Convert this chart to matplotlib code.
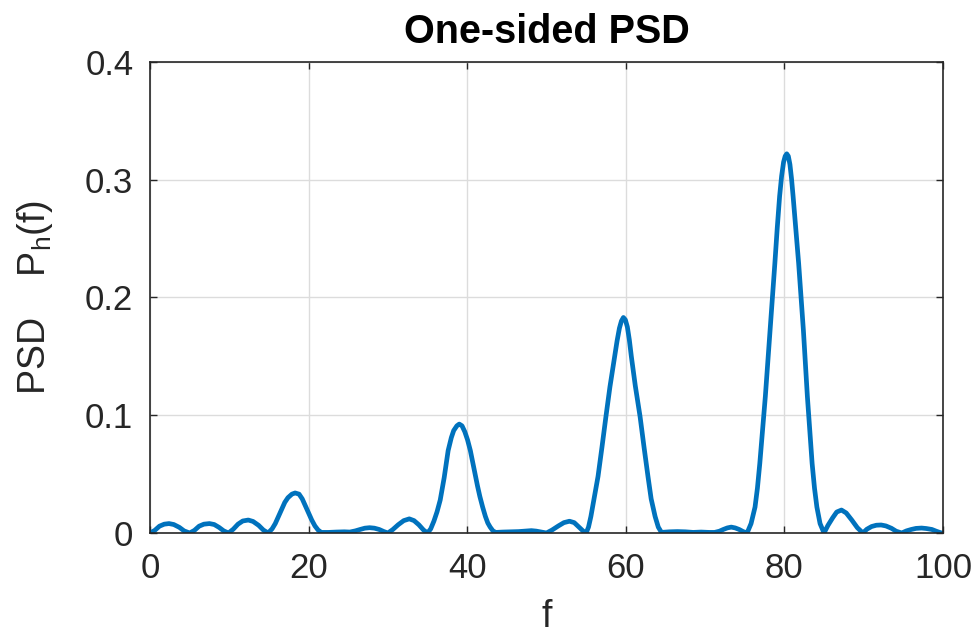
import matplotlib
matplotlib.use("Agg")
from matplotlib import pyplot as plt

plt.rcParams['font.family'] = ['Liberation Sans', 'DejaVu Sans']
plt.rcParams['mathtext.fontset'] = 'custom'
plt.rcParams['mathtext.rm'] = 'Liberation Sans'

# frequency samples and one-sided PSD values
freq = [0.0, 0.6, 1.2, 1.8, 2.4, 3.0, 3.7, 4.3, 5.0,
        5.6, 6.2, 6.8, 7.5, 8.1, 8.7, 9.3, 9.9,
        10.5, 11.1, 11.7, 12.4, 13.0, 13.7, 14.3, 14.9,
        15.4, 15.8, 16.2, 16.6, 17.0, 17.4, 17.9, 18.3, 18.8, 19.2, 19.6, 20.0, 20.4, 20.8, 21.2, 21.6,
        22.5, 23.5, 24.5, 25.2, 25.9, 26.5, 27.1, 27.7, 28.3, 28.9, 29.5, 30.0,
        30.6, 31.3, 32.0, 32.7, 33.3, 33.9, 34.5, 35.0,
        35.4, 35.8, 36.2, 36.6, 37.1, 37.6, 38.0, 38.3, 38.7, 39.0, 39.35, 39.7, 40.05, 40.4,
        40.7, 41.0, 41.3, 41.6, 41.95, 42.3, 42.6, 42.9, 43.25, 43.6,
        44.5, 45.5, 46.5, 47.3, 48.1, 48.7, 49.2, 50.0,
        50.7, 51.5, 52.2, 52.9, 53.5, 54.1, 54.6, 55.0,
        55.3, 55.6, 56.0, 56.5, 57.0, 57.5, 58.0, 58.6, 58.9, 59.2, 59.45, 59.7, 59.95, 60.2, 60.45,
        60.7, 61.2, 61.8, 62.3, 62.8, 63.2, 63.7, 64.1, 64.5,
        65.5, 66.5, 67.5, 68.5, 69.5, 70.5, 71.2, 71.8, 72.3, 72.8, 73.3, 73.8, 74.3, 74.8, 75.3,
        75.8, 76.3, 76.6, 76.9, 77.25, 77.6, 77.9, 78.2, 78.5, 78.8, 79.1, 79.4, 79.65, 79.9,
        80.1, 80.3, 80.5, 80.7, 80.9, 81.1, 81.45, 81.8, 82.1, 82.4, 82.65, 82.9, 83.2, 83.5,
        83.8, 84.1, 84.5, 85.0,
        85.5, 86.1, 86.6, 87.2, 87.8, 88.5, 89.2, 89.9,
        90.4, 91.0, 91.6, 92.2, 92.8, 93.5, 94.1, 94.8,
        95.4, 96.0, 96.6, 97.3, 97.9, 98.6, 99.2, 99.8, 100.0]
psd = [0.0, 0.0022, 0.0058, 0.0075, 0.008, 0.0072, 0.0048, 0.0018, 0.0,
       0.0022, 0.0058, 0.0075, 0.008, 0.0072, 0.0048, 0.0018, 0.0,
       0.0032, 0.0075, 0.0102, 0.011, 0.0098, 0.0065, 0.0025, 0.0,
       0.0035, 0.008, 0.014, 0.020, 0.026, 0.030, 0.033, 0.034, 0.033, 0.029, 0.023, 0.017, 0.011, 0.006, 0.0025, 0.0005,
       0.0005, 0.0008, 0.001, 0.0008, 0.0018, 0.003, 0.0041, 0.0045, 0.0041, 0.003, 0.0012, 0.0,
       0.0028, 0.007, 0.0105, 0.012, 0.0105, 0.007, 0.0025, 0.0,
       0.0035, 0.010, 0.018, 0.028, 0.047, 0.070, 0.081, 0.087, 0.091, 0.0925, 0.091, 0.086, 0.079, 0.070,
       0.060, 0.050, 0.040, 0.031, 0.022, 0.014, 0.0085, 0.005, 0.0018, 0.0005,
       0.0008, 0.001, 0.0012, 0.0016, 0.002, 0.0016, 0.001, 0.0,
       0.0025, 0.006, 0.0088, 0.010, 0.0088, 0.005, 0.0018, 0.0,
       0.005, 0.014, 0.029, 0.048, 0.073, 0.099, 0.124, 0.150, 0.163, 0.174, 0.180, 0.183, 0.181, 0.175, 0.164,
       0.150, 0.125, 0.099, 0.073, 0.048, 0.029, 0.014, 0.005, 0.0005,
       0.001, 0.0012, 0.001, 0.0005, 0.0008, 0.0005, 0.0005, 0.0015, 0.003, 0.0043, 0.005, 0.0043, 0.003, 0.0012, 0.0,
       0.008, 0.022, 0.038, 0.059, 0.087, 0.116, 0.144, 0.172, 0.201, 0.229, 0.259, 0.286, 0.303, 0.315,
       0.320, 0.322, 0.320, 0.313, 0.301, 0.286, 0.258, 0.229, 0.200, 0.172, 0.144, 0.116, 0.087, 0.059,
       0.038, 0.022, 0.008, 0.0,
       0.0065, 0.013, 0.0178, 0.0195, 0.017, 0.011, 0.0045, 0.0,
       0.0032, 0.0055, 0.0066, 0.0068, 0.006, 0.004, 0.0015, 0.0,
       0.0018, 0.003, 0.0039, 0.0042, 0.0038, 0.003, 0.0014, 0.0, 0.0]

xticks = [0, 20, 40, 60, 80, 100]
yticks = [0, 0.1, 0.2, 0.3, 0.4]
ytick_labels = ['0', '0.1', '0.2', '0.3', '0.4']

dark = '#262626'

fig = plt.figure(figsize=(9.79, 6.41), dpi=100)
ax = fig.add_axes([0.1532, 0.1685, 0.8100, 0.7348])

ax.plot(freq, psd, color='#0072BD', linewidth=3.4,
        solid_joinstyle='round', solid_capstyle='round')

ax.set_xlim(0, 100)
ax.set_ylim(0, 0.4)
ax.set_xticks(xticks)
ax.set_yticks(yticks)
ax.set_yticklabels(ytick_labels)
ax.grid(True, color='#dcdcdc', linewidth=1.0)
ax.set_axisbelow(True)

ax.tick_params(direction='in', length=5, width=1.0, colors=dark,
               top=True, right=True, labelsize=25)
ax.tick_params(axis='x', pad=14)
ax.tick_params(axis='y', pad=12)
for sp in ax.spines.values():
    sp.set_color(dark)
    sp.set_linewidth(1.2)

ax.set_title('One-sided PSD', fontsize=28.5, fontweight='bold', color='black', pad=14)
ax.set_xlabel('f', fontsize=27, color=dark, labelpad=10)
ax.set_ylabel('PSD    P$_\\mathregular{h}$(f)', fontsize=27, color=dark, labelpad=22)

fig.savefig('out.png', dpi=100)
